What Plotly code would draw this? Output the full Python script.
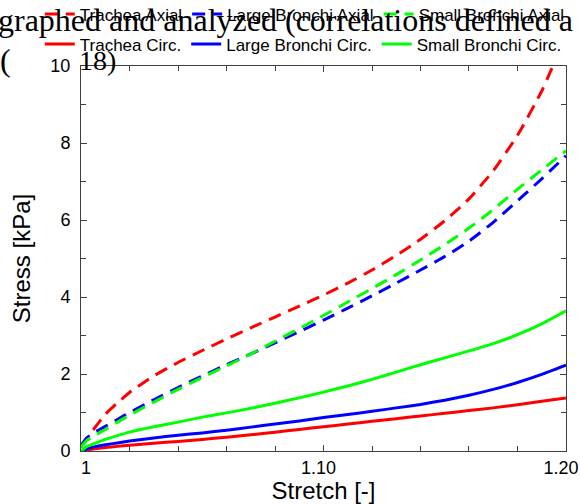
import plotly.graph_objects as go

stretch = [1.0, 1.0025, 1.005, 1.01, 1.015, 1.02, 1.03, 1.04, 1.05, 1.06, 1.07,
           1.08, 1.09, 1.10, 1.11, 1.12, 1.13, 1.14, 1.15, 1.16, 1.17, 1.18, 1.19, 1.20]

trachea_axial = [0.10, 0.32, 0.55, 0.95, 1.25, 1.52, 1.95, 2.30, 2.61, 2.91, 3.20,
                 3.48, 3.76, 4.05, 4.36, 4.70, 5.08, 5.50, 5.98, 6.55, 7.28, 8.20, 9.35, 10.8]
large_axial = [0.15, 0.35, 0.46, 0.64, 0.82, 1.00, 1.33, 1.65, 1.95, 2.24, 2.52,
               2.81, 3.10, 3.40, 3.71, 4.03, 4.36, 4.70, 5.05, 5.45, 5.94, 6.50, 7.07, 7.67]
small_axial = [0.10, 0.28, 0.38, 0.56, 0.75, 0.93, 1.27, 1.60, 1.91, 2.21, 2.52,
               2.85, 3.18, 3.52, 3.87, 4.22, 4.58, 4.96, 5.36, 5.79, 6.27, 6.80, 7.30, 7.80]
trachea_circ = [0.0, 0.03, 0.05, 0.09, 0.12, 0.15, 0.20, 0.25, 0.30, 0.36, 0.42,
                0.49, 0.56, 0.63, 0.70, 0.77, 0.84, 0.91, 0.98, 1.05, 1.12, 1.20, 1.29, 1.38]
large_circ = [0.0, 0.06, 0.10, 0.16, 0.21, 0.26, 0.34, 0.41, 0.47, 0.54, 0.62,
              0.70, 0.78, 0.87, 0.95, 1.03, 1.12, 1.21, 1.32, 1.45, 1.60, 1.78, 1.99, 2.23]
small_circ = [0.0, 0.12, 0.18, 0.30, 0.40, 0.49, 0.63, 0.75, 0.88, 0.99, 1.11,
              1.24, 1.38, 1.53, 1.69, 1.86, 2.05, 2.24, 2.42, 2.60, 2.79, 3.02, 3.30, 3.64]

NB = "\u00a0"
x_tickvals = [1.0, 1.1, 1.2]
x_ticktext = [NB + NB + "1", "1.10" + NB + NB, "1.20" + NB + NB]
y_tickvals = [0, 2, 4, 6, 8, 10]

RED, BLUE, GREEN = "#ff0000", "#0000ff", "#00ff00"
DASH = "13px,8px"
LW = 3

fig = go.Figure()
series = [
    ("Trachea Axial", trachea_axial, RED, DASH, "legend"),
    ("Large Bronchi Axial", large_axial, BLUE, DASH, "legend"),
    ("Small Bronchi Axial", small_axial, GREEN, DASH, "legend"),
    ("Trachea Circ.", trachea_circ, RED, "solid", "legend2"),
    ("Large Bronchi Circ.", large_circ, BLUE, "solid", "legend2"),
    ("Small Bronchi Circ.", small_circ, GREEN, "solid", "legend2"),
]
for name, vals, col, dash, leg in series:
    fig.add_trace(go.Scatter(
        x=stretch, y=vals, name=name, mode="lines", legend=leg,
        line=dict(color=col, width=LW, dash=dash, shape="spline", smoothing=0.5),
    ))

axis_col = "#404040"
legend_common = dict(orientation="h", xanchor="left", yanchor="middle",
                     bgcolor="rgba(0,0,0,0)", font=dict(family="Liberation Sans, Arial", size=17, color="black"),
                     itemwidth=30, tracegroupgap=0)

fig.update_layout(
    width=580, height=504,
    margin=dict(l=81, r=14, t=66, b=53, autoexpand=False),
    paper_bgcolor="white", plot_bgcolor="white",
    font=dict(family="Liberation Sans, Arial", color="black"),
    showlegend=True,
    legend=dict(x=-0.085, y=1.134, **legend_common),
    legend2=dict(x=-0.085, y=1.056, **legend_common),
    xaxis=dict(
        range=[0.99999, 1.20001], tickvals=x_tickvals, ticktext=x_ticktext,
        ticks="inside", ticklen=6, tickcolor=axis_col, showline=True, linecolor=axis_col,
        linewidth=1, mirror="ticks", showgrid=False, zeroline=False,
        tickfont=dict(size=18), automargin=False, ticklabeloverflow="allow",
        minor=dict(dtick=0.02, ticks="inside", ticklen=5, tickcolor=axis_col, showgrid=False),
        title=dict(text="Stretch [-]", font=dict(size=24), standoff=4),
    ),
    yaxis=dict(
        range=[0, 10.0001], tickvals=y_tickvals,
        ticks="inside", ticklen=6, tickcolor=axis_col, showline=True, linecolor=axis_col,
        linewidth=1, mirror="ticks", showgrid=False, zeroline=False,
        tickfont=dict(size=18), automargin=False, ticklabelstandoff=6,
        minor=dict(dtick=1, ticks="inside", ticklen=5, tickcolor=axis_col, showgrid=False),
        title=dict(text="Stress [kPa]", font=dict(size=24), standoff=12),
    ),
)

serif = dict(family="Liberation Serif, Times New Roman, serif", size=32, color="black")
fig.add_annotation(text="graphed and analyzed (correlations defined a", xref="paper", yref="paper",
                   x=(-4 - 81) / 485, y=1 + (66 - 20) / 385, xanchor="left", yanchor="middle",
                   showarrow=False, font=serif)
fig.add_annotation(text="(", xref="paper", yref="paper",
                   x=(-2 - 81) / 485, y=1 + (66 - 60) / 385, xanchor="left", yanchor="middle",
                   showarrow=False, font=serif)
fig.add_annotation(text="18)", xref="paper", yref="paper",
                   x=(77 - 81) / 485, y=1 + (66 - 60) / 385, xanchor="left", yanchor="middle",
                   showarrow=False, font=dict(family="Liberation Serif, Times New Roman, serif", size=28, color="black"))

fig.write_html("out.html")
